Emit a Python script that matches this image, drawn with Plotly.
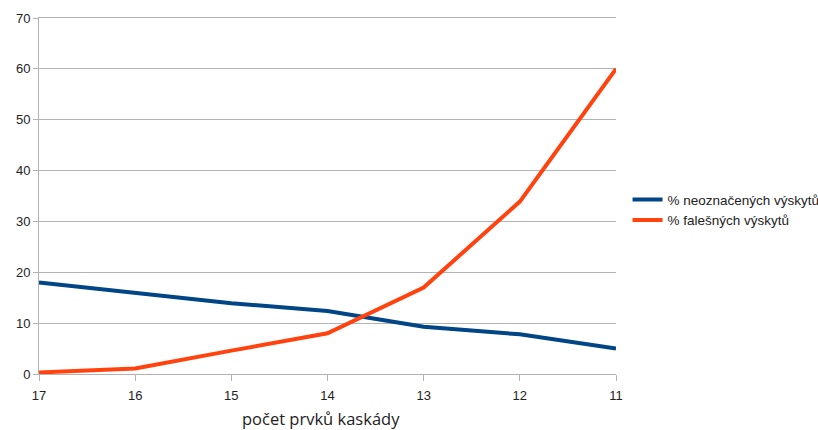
import plotly.graph_objects as go

# Number of cascade stages (x axis categories)
stages = ["17", "16", "15", "14", "13", "12", "11"]
# Share of unmarked occurrences (%)
neoznacene = [18.0, 15.9, 13.9, 12.4, 9.3, 7.8, 5.0]
# Share of false occurrences (%)
falesne = [0.3, 1.1, 4.6, 8.0, 17.0, 33.9, 60.0]
y_ticks = [0, 10, 20, 30, 40, 50, 60, 70]

fig = go.Figure()
fig.add_trace(go.Scatter(
    x=stages, y=neoznacene, mode="lines", name="% neoznačených výskytů",
    line=dict(color="#004586", width=4),
))
fig.add_trace(go.Scatter(
    x=stages, y=falesne, mode="lines", name="% falešných výskytů",
    line=dict(color="#ff420e", width=4),
))

fig.update_layout(
    width=818, height=430,
    margin=dict(l=39, r=202, t=18, b=56, autoexpand=False),
    paper_bgcolor="white", plot_bgcolor="white",
    font=dict(family="Liberation Sans, Arial, sans-serif", size=12, color="#222222"),
    legend=dict(
        x=1.02, xanchor="left", y=0.46, yanchor="middle",
        font=dict(size=13.5, color="#222222"),
        itemwidth=30, tracegroupgap=0, bgcolor="rgba(0,0,0,0)",
    ),
    showlegend=True,
    annotations=[dict(
        text="počet prvků kaskády", xref="paper", yref="paper",
        x=(321 - 39) / 577, y=-(418 - 374) / 356,
        xanchor="center", yanchor="middle", showarrow=False,
        font=dict(family="Open Sans, sans-serif", size=16.5, color="#222222"),
    )],
)
fig.update_xaxes(
    type="category", range=[0, len(stages) - 1],
    showgrid=False, showline=True, linecolor="#b3b3b3", linewidth=1,
    mirror=True, ticks="outside", ticklen=6, tickcolor="#b3b3b3",
    tickfont=dict(size=13, color="#222222"), ticklabelstandoff=3,
    zeroline=False,
)
fig.update_yaxes(
    range=[0, 70], tickvals=y_ticks,
    showgrid=True, gridcolor="#b3b3b3", gridwidth=1,
    showline=True, linecolor="#b3b3b3", linewidth=1,
    ticks="outside", ticklen=5, tickcolor="#b3b3b3",
    tickfont=dict(size=13, color="#222222"),
    zeroline=False,
)

fig.write_html("out.html")
